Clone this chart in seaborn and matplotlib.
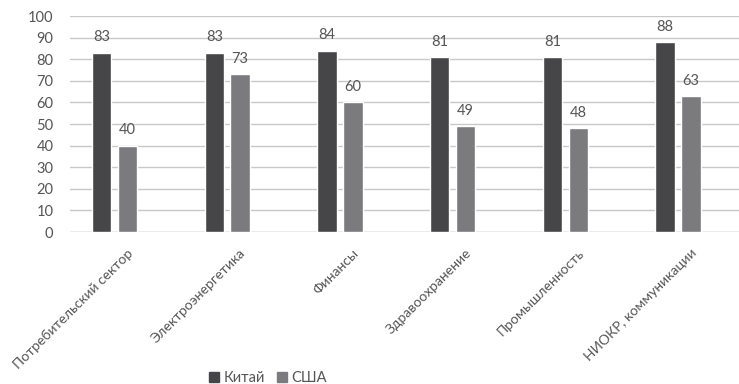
import matplotlib
matplotlib.use("Agg")
import matplotlib.pyplot as plt
import matplotlib.transforms as mtransforms
import seaborn as sns
import pandas as pd

categories = ["Потребительский сектор", "Электроэнергетика", "Финансы",
              "Здравоохранение", "Промышленность", "НИОКР, коммуникации"]
china = [83, 83, 84, 81, 81, 88]
usa = [40, 73, 60, 49, 48, 63]
series_names = ["Китай", "США"]
colors = ["#464648", "#7b7b7d"]

df = pd.DataFrame({
    "sector": categories * 2,
    "value": china + usa,
    "country": [series_names[0]] * len(categories) + [series_names[1]] * len(categories),
})

sns.set_theme(style="white")
plt.rcParams["font.family"] = ["Lato", "DejaVu Sans"]
text_color = "#555555"

fig = plt.figure(figsize=(7.39, 3.84), dpi=100)
ax = fig.add_axes([70 / 739, 1 - 232 / 384, 669 / 739, 216 / 384])

sns.barplot(data=df, x="sector", y="value", hue="country", palette=colors,
            width=0.46, gap=0.25, ax=ax, legend=False, saturation=1)

for container in ax.containers:
    ax.bar_label(container, fmt="%d", padding=6, fontsize=10.5, color=text_color)

ax.set_ylim(0, 100)
ax.set_yticks(range(0, 101, 10))
ax.set_xlim(-0.395, 5.54)
ax.yaxis.grid(True, color="#c8c8c8", linewidth=1)
ax.set_axisbelow(True)
for s in ["top", "right", "left", "bottom"]:
    ax.spines[s].set_visible(False)
ax.axhline(0, color="#c8c8c8", linewidth=1, zorder=0)
ax.set_xlabel("")
ax.set_ylabel("")
ax.tick_params(axis="both", length=0, colors=text_color, labelsize=10.5)
ax.tick_params(axis="y", pad=12)
ax.set_xticks(range(len(categories)))
ax.set_xticklabels(categories, rotation=45, ha="right", rotation_mode="anchor", fontsize=10)
shift = mtransforms.ScaledTranslation(12 / 100, -10 / 100, fig.dpi_scale_trans)
for lbl in ax.get_xticklabels():
    lbl.set_color(text_color)
    lbl.set_transform(lbl.get_transform() + shift)

handles = [plt.Rectangle((0, 0), 1, 1, color=c) for c in colors]
fig.legend(handles, series_names, loc="center", bbox_to_anchor=(268 / 739, 1 - 378 / 384),
           ncol=2, frameon=False, fontsize=10.5, handlelength=0.7, handleheight=0.7,
           handletextpad=0.3, columnspacing=0.8, labelcolor=text_color)

fig.savefig("out.png", dpi=100)
